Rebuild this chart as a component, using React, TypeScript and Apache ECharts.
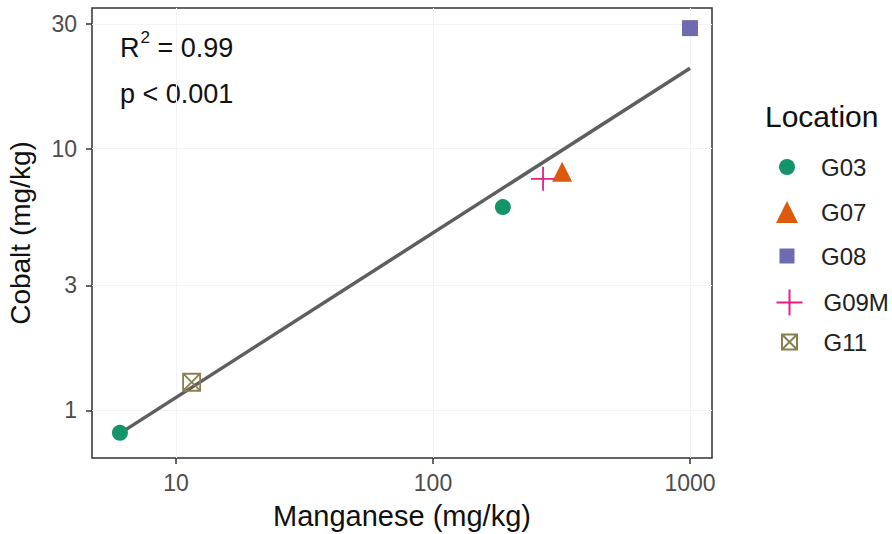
import React, { useEffect, useRef } from "react";
import * as echarts from "echarts";

const locations = ["G03", "G07", "G08", "G09M", "G11"];
const manganese: number[][] = [[6.05, 187], [318], [1000], [268], [11.5]];
const cobalt: number[][] = [[0.82, 5.98], [8.16], [28.9], [7.67], [1.28]];
const colors = ["#14946a", "#dc5a0c", "#6f6bb0", "#e5217f", "#8a7f50"];
const symbols = [
  "circle",
  "triangle",
  "rect",
  "path://M5,0 L5,10 M0,5 L10,5",
  "path://M0,0 L10,0 L10,10 L0,10 Z M0,0 L10,10 M10,0 L0,10",
];
const filled = [true, true, true, false, false];
const symbolSizes = [16, 20, 16, 24, 17];
const legendSizes = [16, 22, 15, 26, 15];
const fitLineX = [6.05, 1000];
const fitLineY = [0.816, 20.3];
const xTicks = [10, 100, 1000];
const yTicks = [1, 3, 10, 30];
const xRange = [4.71, 1218];
const yRange = [0.657, 34.5];

export default function App() {
  const ref = useRef<HTMLDivElement>(null);
  useEffect(() => {
    if (!ref.current) return;
    const chart = echarts.init(ref.current, null, { renderer: "svg" });
    const font = "Liberation Sans, Arial, sans-serif";
    const legendRows = [167, 212, 256, 299, 342];
    const scatterSeries = locations.map((loc, i) => ({
      name: loc,
      type: "scatter",
      symbol: symbols[i],
      symbolSize: symbolSizes[i],
      z: 5,
      data: manganese[i].map((x, j) => [x, cobalt[i][j]]),
      itemStyle: filled[i]
        ? { color: colors[i], opacity: 1 }
        : { color: "none", borderColor: colors[i], borderWidth: 1.8, opacity: 1 },
    }));
    chart.setOption({
      animation: false,
      backgroundColor: "#ffffff",
      textStyle: { fontFamily: font },
      grid: {
        left: 92, top: 8, right: 180, bottom: 76, outerBoundsMode: "none", containLabel: false,
        show: true, borderColor: "#333333", borderWidth: 1.5, backgroundColor: "#fff", z: 0,
      },
      xAxis: {
        type: "log",
        min: xRange[0],
        max: xRange[1],
        name: "Manganese (mg/kg)",
        nameLocation: "middle",
        nameGap: 43,
        nameTextStyle: { fontSize: 29, color: "#111", fontFamily: font },
        axisLine: { show: false },
        axisTick: { show: true, length: 6, lineStyle: { color: "#333", width: 1.5 }, customValues: xTicks },
        axisLabel: { fontSize: 23, color: "#4d4d4d", margin: 13, customValues: xTicks, formatter: (v: number) => String(Math.round(v)) },
        splitLine: { show: true, lineStyle: { color: "#f3f3f3", width: 1 } },
      },
      yAxis: {
        type: "log",
        min: yRange[0],
        max: yRange[1],
        name: "Cobalt (mg/kg)",
        nameLocation: "middle",
        nameGap: 58,
        nameRotate: 90,
        nameTextStyle: { fontSize: 28, color: "#111", fontFamily: font },
        axisLine: { show: false },
        axisTick: { show: true, length: 6, lineStyle: { color: "#333", width: 1.5 }, customValues: yTicks },
        axisLabel: { fontSize: 23, color: "#4d4d4d", margin: 15, customValues: yTicks, formatter: (v: number) => String(Math.round(v)) },
        splitLine: { show: true, lineStyle: { color: "#f3f3f3", width: 1 } },
      },
      legend: locations.map((n, i) => ({
        orient: "vertical",
        left: 787 - legendSizes[i] / 2,
        top: legendRows[i] - 12,
        itemWidth: legendSizes[i],
        itemHeight: legendSizes[i],
        padding: 0,
        data: [{ name: n }],
        textStyle: { fontSize: 24, color: "#222", fontFamily: font, padding: [0, 0, 0, 29 - legendSizes[i] / 2] },
      })),
      graphic: [
        { type: "text", left: 765, top: 101, style: { text: "Location", fontSize: 30, fill: "#111", fontFamily: font } },
        {
          type: "text",
          left: 120,
          top: 29,
          style: {
            text: "{a|R}{s|2}{a| = 0.99}",
            rich: {
              a: { fontSize: 27, fill: "#111", fontFamily: font, verticalAlign: "bottom", lineHeight: 32 },
              s: { fontSize: 17, fill: "#111", fontFamily: font, verticalAlign: "top", lineHeight: 32, padding: [0, 0, 13, 1] },
            },
          },
        },
        { type: "text", left: 120, top: 80, style: { text: "p < 0.001", fontSize: 27, fill: "#111", fontFamily: font } },
      ],
      series: [
        {
          type: "line",
          name: "fit",
          data: fitLineX.map((x, i) => [x, fitLineY[i]]),
          symbol: "none",
          lineStyle: { color: "#5e5e5e", width: 3.5 },
          z: 4,
        },
        ...scatterSeries,
      ],
    });
    return () => chart.dispose();
  }, []);
  return <div ref={ref} style={{ position: "fixed", left: 0, top: 0, width: 892, height: 534 }} />;
}
